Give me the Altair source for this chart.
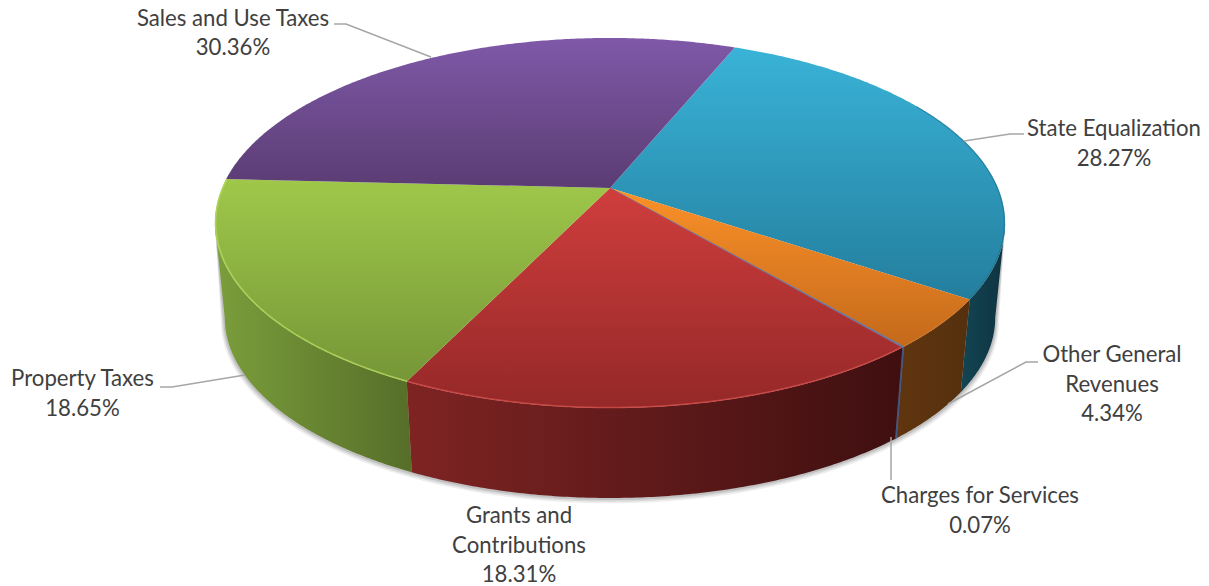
import math
import altair as alt

# ---- chart values (percent shares, clockwise starting at the Sales/State boundary)
categories = ["State Equalization", "Other General Revenues", "Charges for Services",
              "Grants and Contributions", "Property Taxes", "Sales and Use Taxes"]
shares = [28.27, 4.34, 0.07, 18.31, 18.65, 30.36]
label_lines = [["State Equalization"], ["Other General", "Revenues"], ["Charges for Services"],
               ["Grants and", "Contributions"], ["Property Taxes"], ["Sales and Use Taxes"]]

# ---- styles
top_stops = ["#39b3d7,#247e9e", "#fb9129,#c4691b", "#5a75a8,#4a6090",
             "#cf3e3d,#952828", "#9fc84a,#769637", "#7f59a8,#5b3c73"]
wall_stops = ["#134553,#0e3340", "#60350f,#55300e", "#3c5685,#3c5685",
              "#7e2423,#3f0f10", "#7b9e3b,#566e29", None]
rim_colors = ["#1f6d88", "#cf7a22", "#5a75a8", "#d4504c", "#b4d85c", "#8f68b8"]

# ---- layout (screen pixels; page margin is removed below)
MARGIN = 8
START_DEG = 22.2
PX, PY = 610, 188          # pie apex on screen
A, B, K = 388.0, 178.4, 0.189   # perspective projection of the unit disc
S, DROP = 0.975, 95.5      # base disc scale and vertical drop
TANGENT = math.degrees(math.acos(-K))   # angle of the widest point of the disc
FONT, FSIZE, TCOL, LINE_H = "Lato", 22.2, "#404040", 29.5

label_baseline = [(1114, 136), (1112, 362), (980, 503), (519, 523), (82.5, 386), (233, 25.5)]
leader_paths = [
    [(1024, 134), (1010, 134), (964, 141)],
    [(1038, 362), (1026, 362), (948, 404)],
    [(891, 480), (891, 437)],
    [],
    [(160, 387), (172, 387), (245, 375)],
    [(334, 24), (346, 24), (431, 57)],
]


def proj(theta, scale=1.0, dy=0.0):
    t = math.radians(theta)
    u, v = math.sin(t), math.cos(t)
    d = 1 + K * v
    return [PX + scale * A * u / d - MARGIN, PY + dy - scale * B * v / d - MARGIN]


def arc(t0, t1, scale=1.0, dy=0.0):
    n = max(2, int(abs(t1 - t0) * 2) + 2)
    return [proj(t0 + (t1 - t0) * i / (n - 1), scale, dy) for i in range(n)]


def poly(points):
    return {"type": "Feature", "properties": {},
            "geometry": {"type": "Polygon", "coordinates": [points + [points[0]]]}}


def path(points):
    return {"type": "Feature", "properties": {},
            "geometry": {"type": "LineString", "coordinates": points}}


def grad(stops, vertical=True):
    a, b = stops.split(",")
    return alt.Gradient(gradient="linear", x1=0, y1=0, x2=0 if vertical else 1, y2=1 if vertical else 0,
                        stops=[alt.GradientStop(offset=0, color=a), alt.GradientStop(offset=1, color=b)])


PROJ = alt.Projection(type="identity", scale=1, translate=[0, 0])


def shape(feature, **mark):
    return alt.Chart(alt.Data(values=[feature])).mark_geoshape(**mark).project(**PROJ.to_dict())


# slice angle ranges
bounds = []
a0 = START_DEG
for s in shares:
    bounds.append((a0, a0 + s * 3.6))
    a0 += s * 3.6

layers = []

# soft shadow beneath the base
for k, op in ((3.2, 0.10), (2.2, 0.14), (1.2, 0.18)):
    pts = arc(TANGENT + 3, 360 - TANGENT - 3) + arc(360 - TANGENT - 3, TANGENT + 3, S + k * 0.003, DROP + k)
    layers.append(shape(poly(pts), fill="#555555", fillOpacity=op))

# side walls (front-facing part only, ending at the silhouette tangents)
for i in [0, 4, 1, 2, 3]:
    if wall_stops[i] is None:
        continue
    t0 = max(bounds[i][0], TANGENT)
    t1 = min(bounds[i][1], 360 - TANGENT)
    pts = arc(t0, t1) + arc(t1, t0, S, DROP)
    if i == 2:
        layers.append(shape(poly(pts), fill="#3c5685", stroke="#3c5685", strokeWidth=0.8))
    else:
        layers.append(shape(poly(pts), fill=grad(wall_stops[i], vertical=False)))

# top faces
for i in range(len(shares)):
    t0, t1 = bounds[i]
    pts = [[PX - MARGIN, PY - MARGIN]] + arc(t0, t1)
    if i == 2:
        layers.append(shape(poly(pts), fill="#5a75a8", stroke="#5a75a8", strokeWidth=0.8))
    else:
        layers.append(shape(poly(pts), fill=grad(top_stops[i])))

# bevel highlight on the rim
rim_range = {0: (60, bounds[0][1]), 1: bounds[1], 3: bounds[3], 4: bounds[4]}
rim_style = {0: (1.2, 0.55), 1: (1.2, 0.5), 3: (1.5, 0.75), 4: (1.5, 0.8)}
for i, (t0, t1) in rim_range.items():
    w, o = rim_style[i]
    layers.append(shape(path(arc(t0, t1, 0.998)), filled=False, stroke=rim_colors[i],
                        strokeWidth=w, strokeOpacity=o))

# leader lines
leader_rows = []
for i, pts in enumerate(leader_paths):
    for j, (x, y) in enumerate(pts):
        leader_rows.append({"id": categories[i], "n": j, "x": x - MARGIN, "y": y - MARGIN})
leaders = alt.Chart(alt.Data(values=leader_rows)).mark_line(color="#a6a6a6", strokeWidth=1.5).encode(
    x=alt.X("x:Q", scale=None), y=alt.Y("y:Q", scale=None),
    detail="id:N", order="n:Q")
layers.append(leaders)

# labels
text_rows = []
for i, lines in enumerate(label_lines):
    x, y = label_baseline[i]
    rows = lines + [f"{shares[i]:.2f}%"]
    for j, t in enumerate(rows):
        text_rows.append({"t": t, "x": x - MARGIN, "y": y + j * LINE_H - MARGIN})
labels = alt.Chart(alt.Data(values=text_rows)).mark_text(
    font=FONT, fontSize=FSIZE, color=TCOL, align="center", baseline="alphabetic").encode(
    x=alt.X("x:Q", scale=None), y=alt.Y("y:Q", scale=None), text="t:N")
layers.append(labels)

chart = alt.layer(*layers).properties(
    width=1193, height=578, padding=0, autosize="none"
).configure_view(strokeWidth=0)

chart.save("out.html", embed_options={"renderer": "svg", "actions": False})
